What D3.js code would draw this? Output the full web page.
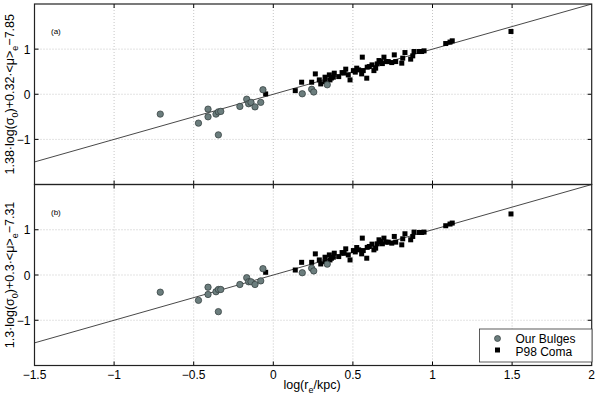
<!DOCTYPE html>
<html><head><meta charset="utf-8">
<script src="https://cdn.jsdelivr.net/npm/d3@7"></script>
<style>body{margin:0;background:#fff}svg{display:block}text{font-family:"Liberation Sans",Arial,sans-serif}</style>
</head><body><svg id="c" width="598" height="399"></svg>
<script>
// Our Bulges
const bulgeX  = [-0.71,-0.47,-0.41,-0.41,-0.36,-0.345,-0.33,-0.345,-0.21,-0.167,-0.155,-0.14,-0.115,-0.079,-0.065,0.182,0.241,0.254,0.339];
const bulgeYa = [-0.44,-0.64,-0.33,-0.50,-0.44,-0.39,-0.38,-0.90,-0.27,-0.11,-0.21,-0.18,-0.28,-0.18,0.10,0.01,0.11,0.05,0.21];
const bulgeYb = [-0.38,-0.56,-0.27,-0.43,-0.37,-0.32,-0.32,-0.81,-0.21,-0.06,-0.15,-0.15,-0.21,-0.13,0.14,0.05,0.15,0.09,0.24];
// P98 Coma
const comaX  = [-0.048,0.138,0.178,0.241,0.264,0.289,0.298,0.325,0.325,0.352,0.356,0.383,0.377,0.411,0.432,0.455,0.471,0.482,0.503,0.524,0.536,0.555,0.559,0.565,0.587,0.603,0.62,0.632,0.643,0.653,0.664,0.675,0.695,0.708,0.722,0.744,0.76,0.769,0.807,0.813,0.827,0.863,0.876,0.884,0.917,0.932,0.947,1.083,1.11,1.124,1.493,0.365,0.445,0.515,0.59,0.685];
const comaYa = [0.007,0.08,0.267,0.267,0.451,0.318,0.229,0.378,0.28,0.429,0.318,0.467,0.378,0.391,0.48,0.556,0.429,0.318,0.524,0.578,0.54,0.451,0.822,0.524,0.356,0.613,0.651,0.524,0.578,0.673,0.747,0.724,0.822,0.724,0.724,0.702,0.873,0.724,0.689,0.8,0.924,0.778,0.851,0.947,0.947,0.947,0.962,1.124,1.156,1.184,1.391,0.36,0.47,0.49,0.6,0.68];
const comaYb = [0.06,0.11,0.28,0.28,0.467,0.333,0.244,0.393,0.296,0.444,0.333,0.482,0.393,0.407,0.496,0.578,0.444,0.333,0.54,0.607,0.556,0.467,0.815,0.54,0.371,0.63,0.682,0.556,0.593,0.689,0.778,0.74,0.815,0.726,0.726,0.704,0.852,0.726,0.667,0.8,0.911,0.778,0.852,0.948,0.94,0.94,0.948,1.089,1.126,1.148,1.349,0.37,0.48,0.51,0.61,0.69];
const xTicks = [-1.5,-1,-0.5,0,0.5,1,1.5,2];
const yTicks = [-1,0,1];
const fitLine = [[-1.5,-1.5],[2,2]];

const svg = d3.select("#c");
const L = 34.5, R = 591.7;
const x = d3.scaleLinear().domain([-1.5,2]).range([L,R]);
const panels = [
  {top:4, bot:184.5, ys:bulgeYa, yc:comaYa, lab:"(a)", ylab:["1.38·log(σ","0",")+0.32·<μ>","e","−7.85"]},
  {top:184.5, bot:365.5, ys:bulgeYb, yc:comaYb, lab:"(b)", ylab:["1.3·log(σ","0",")+0.3·<μ>","e","−7.31"]}
];
const fmt = d => (d<0?"−":"")+Math.abs(d);

panels.forEach((p,i)=>{
  const y = d3.scaleLinear().domain([-2,2]).range([p.bot,p.top]);
  const g = svg.append("g");
  // grid
  g.selectAll(".gx").data(xTicks.slice(1,-1)).join("line")
    .attr("x1",d=>x(d)).attr("x2",d=>x(d)).attr("y1",p.top).attr("y2",p.bot)
    .attr("stroke","#b8b8b8").attr("stroke-width",0.8).attr("stroke-dasharray","1,2");
  g.selectAll(".gy").data(yTicks).join("line")
    .attr("x1",L).attr("x2",R).attr("y1",d=>y(d)).attr("y2",d=>y(d))
    .attr("stroke","#b8b8b8").attr("stroke-width",0.8).attr("stroke-dasharray","1,2");
  // inward ticks
  const tl = 4;
  xTicks.slice(1,-1).forEach(t=>{
    g.append("line").attr("x1",x(t)).attr("x2",x(t)).attr("y1",p.top).attr("y2",p.top+tl).attr("stroke","#000");
    g.append("line").attr("x1",x(t)).attr("x2",x(t)).attr("y1",p.bot).attr("y2",p.bot-tl).attr("stroke","#000");
  });
  yTicks.forEach(t=>{
    g.append("line").attr("x1",L).attr("x2",L+tl).attr("y1",y(t)).attr("y2",y(t)).attr("stroke","#000");
    g.append("line").attr("x1",R).attr("x2",R-tl).attr("y1",y(t)).attr("y2",y(t)).attr("stroke","#000");
    g.append("text").attr("x",L-4).attr("y",y(t)+4.5).attr("text-anchor","end").attr("font-size",12).text(fmt(t));
  });
  // fit line
  g.append("clipPath").attr("id","cp"+i).append("rect").attr("x",L).attr("y",p.top).attr("width",R-L).attr("height",p.bot-p.top);
  g.append("path").datum(fitLine).attr("d",d3.line().x(d=>x(d[0])).y(d=>y(d[1])))
    .attr("stroke","#333").attr("stroke-width",0.9).attr("fill","none").attr("clip-path","url(#cp"+i+")");
  // coma squares
  const s = 5;
  g.selectAll(".sq").data(comaX.map((v,k)=>[v,p.yc[k]])).join("rect")
    .attr("x",d=>x(d[0])-s/2).attr("y",d=>y(d[1])-s/2).attr("width",s).attr("height",s).attr("fill","#000");
  // bulges
  g.selectAll(".ci").data(bulgeX.map((v,k)=>[v,p.ys[k]])).join("circle")
    .attr("cx",d=>x(d[0])).attr("cy",d=>y(d[1])).attr("r",3.2)
    .attr("fill","#6b7d7d").attr("stroke","#2f3a3a").attr("stroke-width",0.7);
  // frame
  g.append("rect").attr("x",L).attr("y",p.top).attr("width",R-L).attr("height",p.bot-p.top)
    .attr("fill","none").attr("stroke","#222").attr("stroke-width",1.2);
  g.append("text").attr("x",51).attr("y",p.top+30).attr("font-size",8).text(p.lab);
  // y label
  const cy = (p.top+p.bot)/2;
  const t = g.append("text").attr("transform",`translate(14,${cy}) rotate(-90)`).attr("text-anchor","middle").attr("font-size",12.5);
  t.append("tspan").text(p.ylab[0]);
  t.append("tspan").attr("dy",3.5).attr("font-size",9).text(p.ylab[1]);
  t.append("tspan").attr("dy",-3.5).text(p.ylab[2]);
  t.append("tspan").attr("dy",4).attr("font-size",9).text(p.ylab[3]);
  t.append("tspan").attr("dy",-4).text(p.ylab[4]);
});

// x tick labels
svg.selectAll(".xl").data(xTicks).join("text")
  .attr("x",d=>x(d)).attr("y",379).attr("text-anchor","middle").attr("font-size",12).text(fmt);
// x label
const xl = svg.append("text").attr("x",312).attr("y",389).attr("text-anchor","middle").attr("font-size",12.5);
xl.append("tspan").text("log(r");
xl.append("tspan").attr("dy",3.5).attr("font-size",9).text("e");
xl.append("tspan").attr("dy",-3.5).text("/kpc)");

// legend
const lg = svg.append("g");
lg.append("rect").attr("x",479.5).attr("y",329).attr("width",112.5).attr("height",33).attr("fill","#fff").attr("stroke","#333").attr("stroke-width",0.8);
lg.append("circle").attr("cx",497.5).attr("cy",338.5).attr("r",3).attr("fill","#6b7d7d").attr("stroke","#2f3a3a").attr("stroke-width",0.7);
lg.append("rect").attr("x",495).attr("y",347.5).attr("width",5).attr("height",5).attr("fill","#000");
lg.append("text").attr("x",515.5).attr("y",342.5).attr("font-size",12).text("Our Bulges");
lg.append("text").attr("x",515.5).attr("y",355.5).attr("font-size",12).text("P98 Coma");
</script></body></html>
